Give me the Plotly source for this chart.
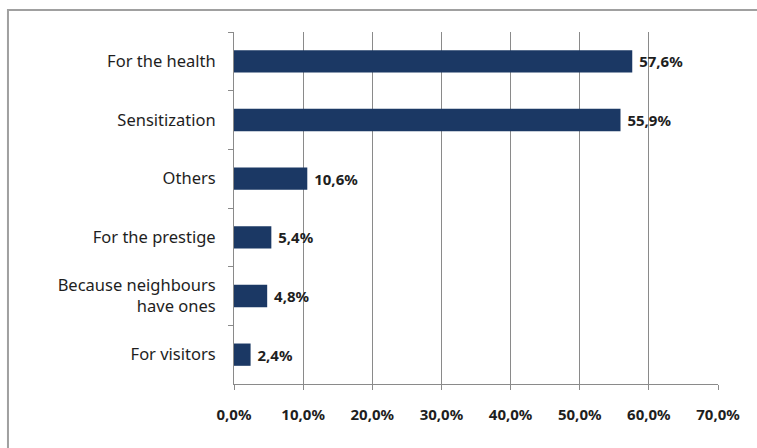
import plotly.graph_objects as go

# Reasons given, listed top to bottom, with their shares in percent
categories = [
    "For the health",
    "Sensitization",
    "Others",
    "For the prestige",
    "Because neighbours<br>have ones",
    "For visitors",
]
shares = [57.6, 55.9, 10.6, 5.4, 4.8, 2.4]
x_ticks = [0, 10, 20, 30, 40, 50, 60, 70]
x_tick_labels = [f"{v:.1f}%".replace(".", ",") for v in x_ticks]

bar_color = "#1b3864"
grid_color = "#8a8a8a"
text_color = "#1e1e1e"

fig = go.Figure(
    go.Bar(
        x=shares,
        y=categories,
        orientation="h",
        marker=dict(color=bar_color, line=dict(width=0)),
        texttemplate="\u00a0%{x:.1f}%",
        textposition="outside",
        textfont=dict(family="Noto Sans", size=15, color=text_color, weight="bold"),
        cliponaxis=False,
        hoverinfo="skip",
    )
)

fig.update_layout(
    width=757,
    height=448,
    margin=dict(l=234, r=39, t=32, b=64),
    paper_bgcolor="white",
    plot_bgcolor="white",
    separators=",.",
    bargap=0.62,
    showlegend=False,
    font=dict(family="Noto Sans", color=text_color),
    shapes=[
        # frame around the chart area
        dict(
            type="rect", xref="paper", yref="paper",
            x0=-0.467, x1=1.2, y0=-0.3, y1=1.0625,
            line=dict(color="#a0a0a0", width=2),
            fillcolor="rgba(0,0,0,0)", layer="below",
        )
    ],
)

fig.update_xaxes(
    range=[0, 70],
    tickvals=x_ticks,
    ticktext=x_tick_labels,
    showgrid=True,
    gridcolor=grid_color,
    gridwidth=1,
    zeroline=False,
    showline=True,
    linecolor=grid_color,
    linewidth=1,
    ticks="outside",
    ticklen=5,
    tickcolor=grid_color,
    tickfont=dict(family="Noto Sans", size=15, color=text_color, weight="bold"),
    ticklabelstandoff=12,
    fixedrange=True,
)

fig.update_yaxes(
    autorange="reversed",
    showgrid=False,
    showline=True,
    linecolor=grid_color,
    linewidth=1,
    ticks="outside",
    tickson="boundaries",
    ticklen=5,
    tickcolor=grid_color,
    tickfont=dict(family="Noto Sans", size=16.5, color=text_color),
    ticklabelstandoff=14,
    fixedrange=True,
)

fig.write_html("out.html")
